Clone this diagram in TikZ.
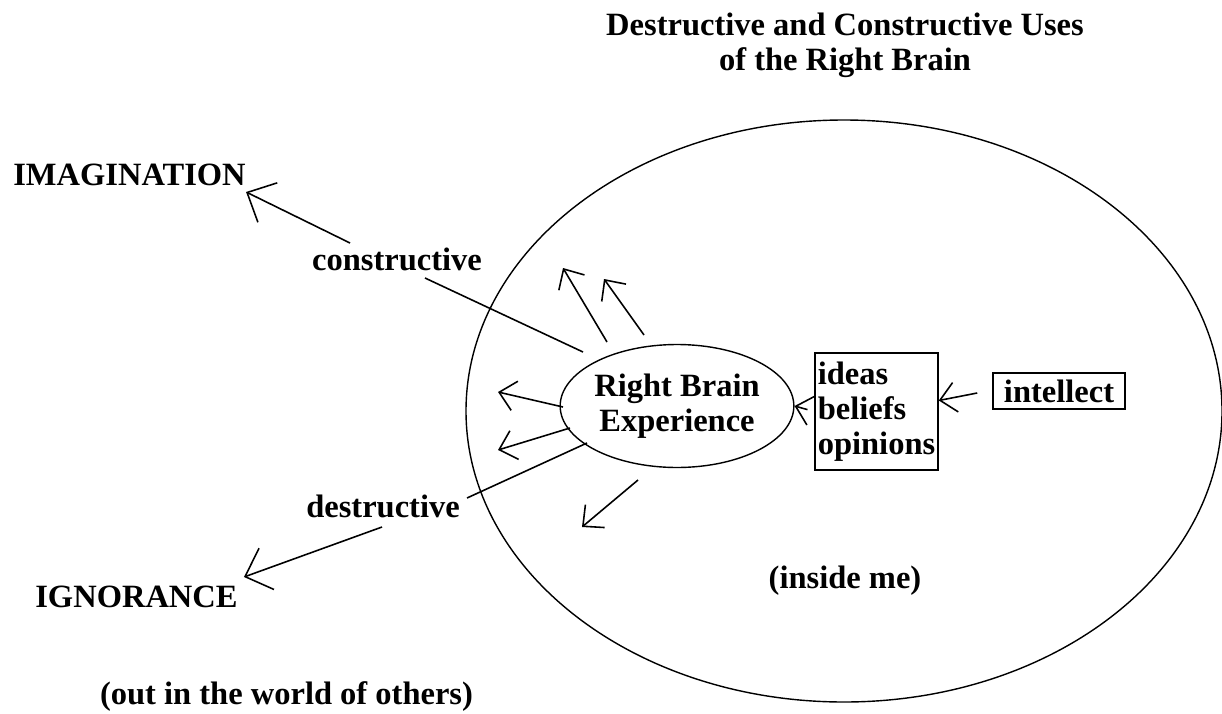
\documentclass[tikz,border=0pt]{standalone}
\usepackage{fontspec}
\setmainfont{Liberation Serif}
\usetikzlibrary{arrows.meta,shapes.geometric}
\begin{document}
\begin{tikzpicture}[x=0.02cm,y=-0.02cm,
  lbl/.style={font=\fontsize{18.5pt}{19.8pt}\selectfont\bfseries, inner sep=0pt},
  ln/.style={line width=0.9pt},
  arr/.style={line width=0.9pt,-{Straight Barb[length=9pt,width=17pt]}},
  bigarr/.style={line width=0.9pt,-{Straight Barb[length=13pt,width=25pt]}}]
\useasboundingbox (0,0) rectangle (1222,713);

% big ellipse (inside me)
\draw[line width=0.8pt] (844,411) ellipse [x radius=378, y radius=291];

% title
\node[lbl, align=center, anchor=north] (title) at (845,13)
  {Destructive and Constructive Uses\\of the Right Brain};

% nodes
\node[lbl, draw, ellipse, line width=0.8pt, minimum width=4cm, minimum height=2.46cm,
      align=center] (rbe) at (677,406) {Right Brain\\Experience};
\node[lbl, draw, line width=0.9pt, minimum width=2.46cm, minimum height=2.34cm,
      align=left] (box) at (876.5,411.5) {ideas\\beliefs\\opinions};
\node[lbl, draw, line width=0.9pt, minimum width=2.64cm, minimum height=0.72cm]
      (intel) at (1059,391) {intellect};

\node[lbl, anchor=base west] (imag) at (13,185) {IMAGINATION};
\node[lbl, anchor=base west] (ign) at (35,607) {IGNORANCE};
\node[lbl, anchor=base] (out) at (286.5,704) {(out in the world of others)};
\node[lbl, anchor=base] (inside) at (845,588) {(inside me)};
\node[lbl, anchor=base] (con) at (397,270) {constructive};
\node[lbl, anchor=base] (des) at (383,517) {destructive};

% constructive connector
\coordinate (c0) at (583,352);
\coordinate (c1) at (425,278);
\coordinate (c2) at (350,243);
\draw[ln] (c0) -- (c1);
\draw[bigarr] (c2) -- ([shift={(0,7)}]imag.base east);

% destructive connector
\coordinate (d0) at (587,443);
\coordinate (d1) at (467,498);
\coordinate (d2) at (382,527);
\draw[ln] (d0) -- (d1);
\draw[bigarr] (d2) -- ([shift={(6,-30)}]ign.base east);

% small arrows around Right Brain Experience
\coordinate (aT) at (607,342); \coordinate (aH) at (563,268);
\coordinate (bT) at (644,335); \coordinate (bH) at (604,279);
\coordinate (cT) at (563,407); \coordinate (cH) at (498,392);
\coordinate (eT) at (570,428); \coordinate (eH) at (498,450);
\coordinate (fT) at (638,480); \coordinate (fH) at (582,527);
\draw[arr] (aT) -- (aH);
\draw[arr] (bT) -- (bH);
\draw[arr] (cT) -- (cH);
\draw[arr] (eT) -- (eH);
\draw[arr] (fT) -- (fH);

% box -> ellipse, intellect -> box
\draw[arr, shorten <=4pt] (box.west) -- (rbe.east);
\draw[arr] ([shift={(-15,2)}]intel.west) -- ([shift={(0,-11)}]box.east);
\end{tikzpicture}
\end{document}
